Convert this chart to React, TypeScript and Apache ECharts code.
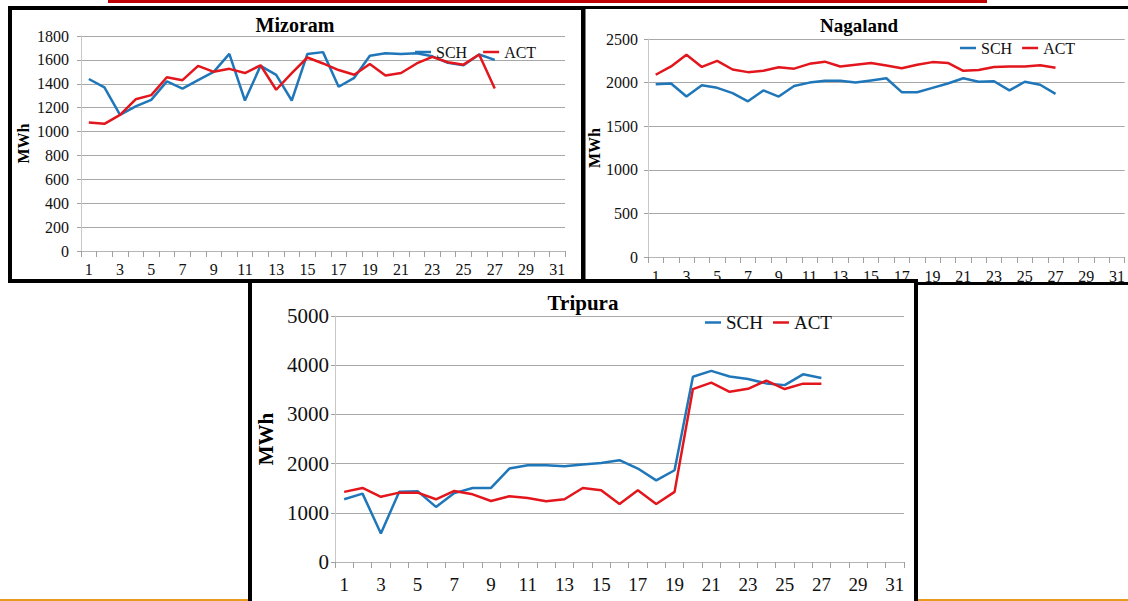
import React, { useEffect, useRef } from "react";
import * as echarts from "echarts";

const days = ["1","2","3","4","5","6","7","8","9","10","11","12","13","14","15","16","17","18","19","20","21","22","23","24","25","26","27","28","29","30","31"];

const mizoramSCH = [1440,1370,1140,1210,1265,1420,1360,1430,1500,1650,1260,1550,1475,1260,1650,1665,1375,1450,1635,1655,1650,1655,1630,1575,1555,1645,1600];
const mizoramACT = [1075,1065,1140,1270,1305,1455,1430,1550,1500,1525,1490,1555,1350,1490,1620,1570,1515,1475,1565,1470,1490,1570,1625,1580,1560,1645,1360];
const nagalandSCH = [1980,1990,1840,1970,1940,1880,1785,1910,1840,1960,2000,2020,2020,2000,2025,2050,1890,1890,1940,1990,2050,2010,2015,1910,2010,1975,1870];
const nagalandACT = [2090,2185,2320,2180,2250,2150,2120,2135,2175,2160,2215,2240,2185,2205,2225,2195,2165,2205,2235,2225,2135,2145,2180,2185,2185,2200,2170];
const tripuraSCH = [1275,1390,580,1430,1440,1120,1400,1505,1505,1900,1965,1965,1945,1980,2010,2070,1900,1660,1865,3765,3885,3770,3720,3630,3595,3815,3740];
const tripuraACT = [1425,1505,1325,1410,1410,1275,1445,1375,1240,1335,1300,1235,1275,1505,1460,1180,1460,1180,1425,3515,3645,3460,3520,3685,3515,3625,3625];

const titles = ["Mizoram", "Nagaland", "Tripura"];
const seriesNames = ["SCH", "ACT"];
const yMax = [1800, 2500, 5000];
const yStep = [200, 500, 1000];

const FONT = "Liberation Serif";
const BLUE = "#1f77ba";
const RED = "#e2161c";

const layout = [
  { grid: { left: 81, top: 36, width: 484, height: 215 }, xFont: 16, yFont: 16, xMargin: 10, yMargin: 12, nameFont: 16, nameGap: 50, z: 0,
    title: { x: 295, y: 15, size: 20 }, legend: { left: 415, top: 44, size: 16, gap: 16 } },
  { grid: { left: 648, top: 39, width: 479, height: 218 }, xFont: 16, yFont: 16, xMargin: 11, yMargin: 10, nameFont: 16, nameGap: 46, z: 0,
    title: { x: 859, y: 16, size: 19 }, legend: { left: 960, top: 40, size: 16, gap: 10 } },
  { grid: { left: 335, top: 316, width: 569, height: 246 }, xFont: 19, yFont: 21, xMargin: 13, yMargin: 6, nameFont: 21, nameGap: 44, z: 4,
    title: { x: 583, y: 292, size: 21 }, legend: { left: 705, top: 313, size: 19, gap: 10 } },
];

const dataSets = [
  [mizoramSCH, mizoramACT],
  [nagalandSCH, nagalandACT],
  [tripuraSCH, tripuraACT],
];

export default function App() {
  const ref = useRef<HTMLDivElement>(null);
  useEffect(() => {
    if (!ref.current) return;
    const chart = echarts.init(ref.current, null, { renderer: "svg" });
    const grid: any[] = [];
    const xAxis: any[] = [];
    const yAxis: any[] = [];
    const series: any[] = [];
    const title: any[] = [];
    const legend: any[] = [];
    layout.forEach((p, i) => {
      grid.push({ ...p.grid, containLabel: false });
      xAxis.push({
        type: "category", gridIndex: i, data: days, boundaryGap: true, z: p.z,
        axisLine: { lineStyle: { color: "#b5b5b5", width: 1 } },
        axisTick: { show: true, interval: 0, length: 6, lineStyle: { color: "#a0a0a0" } },
        axisLabel: { interval: 1, fontFamily: FONT, fontSize: p.xFont, color: "#111", margin: p.xMargin },
        splitLine: { show: false },
      });
      yAxis.push({
        type: "value", gridIndex: i, min: 0, max: yMax[i], interval: yStep[i], z: p.z,
        name: "MWh", nameLocation: "middle", nameRotate: 90, nameGap: p.nameGap,
        nameTextStyle: { fontFamily: FONT, fontWeight: "bold", fontSize: p.nameFont, color: "#000" },
        axisLine: { show: true, lineStyle: { color: "#c8c8c8", width: 1 } },
        axisTick: { show: true, length: 4, lineStyle: { color: "#a0a0a0" } },
        axisLabel: { fontFamily: FONT, fontSize: p.yFont, color: "#111", margin: p.yMargin, formatter: (v: number) => String(v) },
        splitLine: { show: true, lineStyle: { color: "#a8a8a8", width: 1 } },
      });
      dataSets[i].forEach((d, k) => {
        series.push({
          type: "line", name: seriesNames[k], xAxisIndex: i, yAxisIndex: i, data: d,
          symbol: "none", showSymbol: false, z: p.z + 2,
          lineStyle: { color: k === 0 ? BLUE : RED, width: 2.5 },
          itemStyle: { color: k === 0 ? BLUE : RED },
        });
      });
      title.push({
        text: titles[i], left: p.title.x, top: p.title.y, textAlign: "center", z: 8,
        textStyle: { fontFamily: FONT, fontWeight: "bold", fontSize: p.title.size, color: "#000" },
        padding: 0,
      });
      legend.push({
        data: seriesNames, left: p.legend.left, top: p.legend.top, orient: "horizontal",
        icon: "rect", itemWidth: 16, itemHeight: 2.5, itemGap: p.legend.gap, padding: 0, z: 8,
        selectedMode: false,
        textStyle: { fontFamily: FONT, fontSize: p.legend.size, color: "#111" },
      });
    });
    chart.setOption({
      animation: false,
      backgroundColor: "#ffffff",
      color: [BLUE, RED],
      textStyle: { fontFamily: FONT },
      title, legend, grid, xAxis, yAxis, series,
      graphic: [
        { type: "rect", z: 1, shape: { x: 108, y: 0, width: 879, height: 3 }, style: { fill: "#c00000" } },
        { type: "rect", z: 1, shape: { x: 10, y: 8, width: 573, height: 273 }, style: { fill: "none", stroke: "#000", lineWidth: 4 } },
        { type: "rect", z: 1, shape: { x: 584, y: 7.5, width: 560, height: 276 }, style: { fill: "none", stroke: "#000", lineWidth: 3 } },
        { type: "rect", z: 3, shape: { x: 250, y: 281, width: 666, height: 340 }, style: { fill: "#fff", stroke: "#000", lineWidth: 4 } },
        { type: "rect", z: 1, shape: { x: 0, y: 599, width: 248, height: 2 }, style: { fill: "#e89a1a" } },
        { type: "rect", z: 1, shape: { x: 918, y: 599, width: 210, height: 2 }, style: { fill: "#e89a1a" } },
      ],
    });
    return () => chart.dispose();
  }, []);
  return <div ref={ref} style={{ position: "fixed", left: 0, top: 0, width: 1128, height: 601 }} />;
}
